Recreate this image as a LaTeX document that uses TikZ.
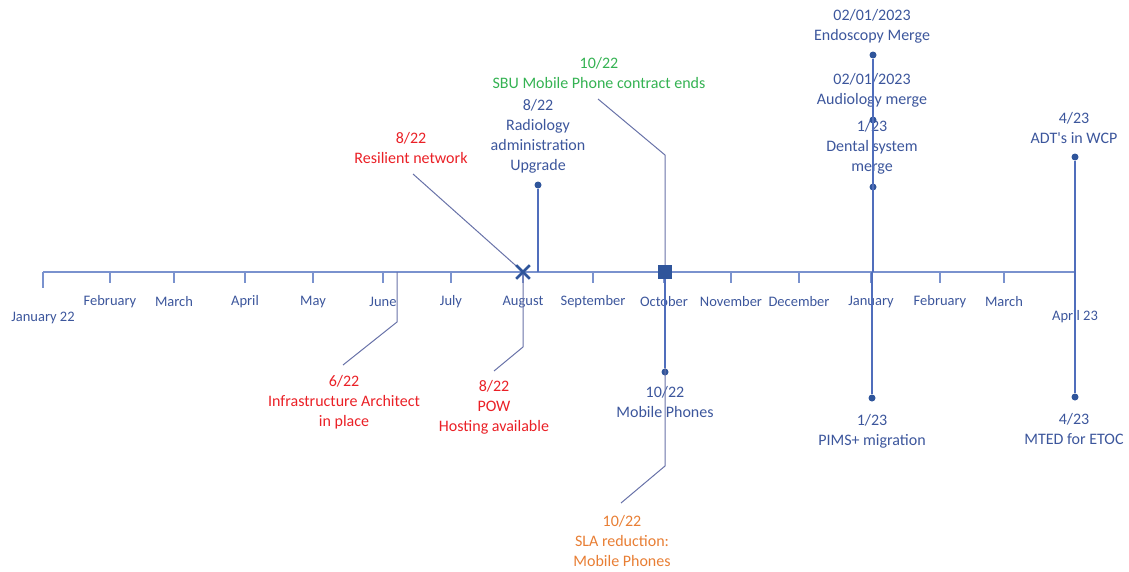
\documentclass[tikz,border=0pt]{standalone}
\usepackage{fontspec}
\setmainfont{Carlito}
\usetikzlibrary{positioning,calc,shapes.misc}
\definecolor{axisc}{RGB}{122,146,206}
\definecolor{stemc}{RGB}{80,110,188}
\definecolor{dotc}{RGB}{47,85,155}
\definecolor{lbl}{RGB}{60,86,156}
\definecolor{leadc}{RGB}{104,114,168}
\definecolor{redc}{RGB}{234,32,38}
\definecolor{greenc}{RGB}{52,178,82}
\definecolor{orangec}{RGB}{232,126,52}
\tikzset{
  axisln/.style={draw=axisc,line width=1.5pt},
  mon/.style={font=\fontsize{14.5}{17}\selectfont,text=lbl,inner sep=0pt},
  evtxt/.style={align=center,font=\fontsize{16}{20}\selectfont,inner sep=0pt,text=lbl},
  dotn/.style={circle,fill=dotc,minimum size=7pt,inner sep=0pt},
  stem/.style={draw=stemc,line width=1.4pt},
  lead/.style={draw=leadc,line width=1pt},
  xmark/.style={cross out,draw=dotc,line width=2.6pt,minimum size=11pt,inner sep=0pt},
  sqmark/.style={rectangle,fill=dotc,minimum size=14pt,inner sep=0pt},
}

\begin{document}
\begin{tikzpicture}[x=1pt,y=-1pt]
\useasboundingbox (0,0) rectangle (1129,571);
% time axis
\coordinate (a0) at (43,272);
\coordinate (a1) at (1075,272);
\draw[axisln] (a0) -- (a1);
\draw[axisln] (a0) -- ++(0,16);
\draw[axisln] (a1) -- ++(0,16);
\node[mon] (m0) at (43,318) {January 22};
\node[mon] (m13) at (1075,317) {April 23};
\foreach \x/\m [count=\i] in {110/February,174/March,245/April,313/May,
  383/June,451/July,523/August,593/September,664/October,731/November,
  799/December,871/January,940/February,1004/March}{
  \coordinate (k\i) at (\x,272);
  \draw[axisln] (k\i) -- ++(0,11);
  \node[mon] (m\i) at (\x,302) {\m};
}

% dots
\node[dotn] (d-radio) at (538,185) {};
\node[dotn] (d-mob) at (665,372) {};
\node[dotn] (d-endo) at (873,55) {};
\node[dotn] (d-audio) at (873,120) {};
\node[dotn] (d-dent) at (873,187) {};
\node[dotn] (d-pims) at (872,398) {};
\node[dotn] (d-adt) at (1075,157) {};
\node[dotn] (d-mted) at (1075,397) {};

% labels
\node[evtxt,text=redc] (resil) at (411,148) {8/22\\Resilient network};
\node[evtxt] (radio) at (538,136) {8/22\\Radiology\\administration\\Upgrade};
\node[evtxt,text=greenc] (sbu) at (599,73) {10/22\\SBU Mobile Phone contract ends};
\node[evtxt,text=redc] (infra) at (344,402) {6/22\\Infrastructure Architect\\in place};
\node[evtxt,text=redc] (pow) at (494,407) {8/22\\POW\\Hosting available};
\node[evtxt] (mob) at (665,402) {10/22\\Mobile Phones};
\node[evtxt,text=orangec] (sla) at (622,541) {10/22\\SLA reduction:\\Mobile Phones};
\node[evtxt] (endo) at (872,26) {02/01/2023\\Endoscopy Merge};
\node[evtxt] (audio) at (872,90) {02/01/2023\\Audiology merge};
\node[evtxt] (dent) at (872,147) {1/23\\Dental system\\merge};
\node[evtxt] (pims) at (872,431) {1/23\\PIMS+ migration};
\node[evtxt] (adt) at (1074,128) {4/23\\ADT\textquotesingle s in WCP};
\node[evtxt] (mted) at (1074,429) {4/23\\MTED for ETOC};

% callout ends and bends
\coordinate (p-res) at (523,272);
\coordinate (p-sbu) at (665,272);
\coordinate (c-resil) at (413,174);
\coordinate (c-sbu) at (598,99);
\coordinate (b-sbu) at (665,155);
\coordinate (a-infra) at (397,272);
\coordinate (b-infra) at (397,322);
\coordinate (c-infra) at (343,365);
\coordinate (b-pow) at (523,347);
\coordinate (c-pow) at (494,371);
\coordinate (b-sla) at (665,466);
\coordinate (c-sla) at (621,503);

\draw[lead] (c-resil) -- (p-res);
\draw[lead] (c-sbu) -- (b-sbu) -- (p-sbu);
\draw[lead] (a-infra) -- (b-infra) -- (c-infra);
\draw[lead] (p-res) -- (b-pow) -- (c-pow);
\draw[lead] (p-sbu) -- (b-sla) -- (c-sla);
\draw[stem] (d-radio) -- (d-radio |- a0);
\draw[stem] (d-mob) -- (d-mob |- a0);
\draw[stem] (d-endo) -- (d-endo |- a0);
\draw[stem] (d-audio) -- (d-audio |- a0);
\draw[stem] (d-dent) -- (d-dent |- a0);
\draw[stem] (d-pims) -- (d-pims |- a0);
\draw[stem] (d-adt) -- (d-adt |- a0);
\draw[stem] (d-mted) -- (d-mted |- a0);

% markers on the axis
\node[xmark] (resx) at (p-res) {};
\node[sqmark] (sbusq) at (p-sbu) {};
\end{tikzpicture}
\end{document}
